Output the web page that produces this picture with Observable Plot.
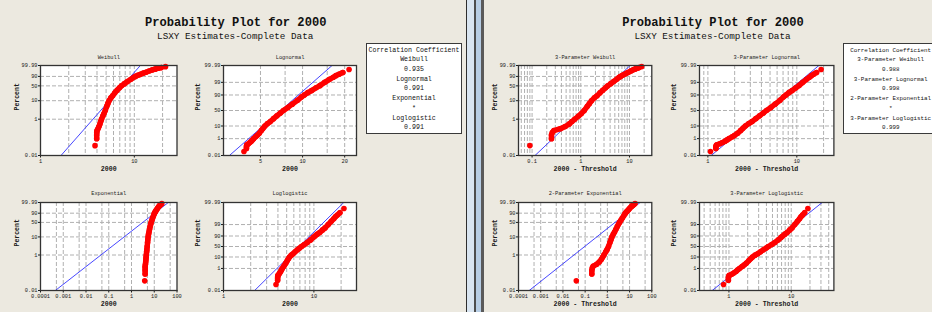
<!DOCTYPE html>
<html><head><meta charset="utf-8">
<script src="https://cdn.jsdelivr.net/npm/d3@7"></script>
<script src="https://cdn.jsdelivr.net/npm/@observablehq/plot@0.6"></script>
<style>
html,body{margin:0;padding:0}
body{width:932px;height:312px;overflow:hidden;background:#ECE9E0;position:relative;font-family:"Liberation Mono",monospace;color:#111}
.abs{position:absolute}
.ttl{position:absolute;transform:translate(-50%,-50%);white-space:nowrap;line-height:1}
.box{position:absolute;background:#fff;border:1.5px solid #3a3a3a;box-sizing:border-box;padding-top:2.2px}
.box div{height:9.7px;line-height:9.7px;text-align:center;font-size:6.6px;white-space:nowrap}
.box.narrow div{font-size:5.85px}
</style></head><body>
<div id="root"></div>
<script>
// ---- data: the sample "2000" read as quantiles (percent -> value) ----
const percents = [0.035, 0.085, 0.135, 0.185, 0.235, 0.30, 0.40, 0.55, 0.75, 1.0, 1.5, 2.0, 3.0, 5.0, 7.0, 10, 14, 18, 25, 33, 42, 50, 60, 70, 80, 87, 90, 93, 95, 97, 98, 99, 99.5, 99.7, 99.8, 99.865, 99.915, 99.965];
const values2000 = [3.81, 3.97, 3.97, 3.98, 4.00, 4.10, 4.20, 4.30, 4.38, 4.47, 4.62, 4.74, 4.90, 5.08, 5.22, 5.38, 5.62, 5.88, 6.20, 6.55, 6.95, 7.30, 7.85, 8.45, 9.20, 9.85, 10.3, 10.9, 11.6, 12.5, 13.3, 14.4, 15.6, 16.6, 17.3, 18.2, 19.4, 21.5];

// thresholds of the 3-/2-parameter fits
const thrWeibull3 = 3.72, thrLognormal3 = 2.74, thrExponential2 = 3.77, thrLoglogistic3 = 2.99;

// fitted lines: x value at 0.01 % and at 99.99 %
const fitPercents = [0.01, 99.99];
const fitWeibull = [1.654, 11.59];
const fitLognormal = [3.0, 16.25];
const fitExponential = [0.00045, 41.4];
const fitLoglogistic = [2.21, 21.4];
const fitWeibull3 = [0.115, 10.3];
const fitLognormal3 = [1.09, 17.7];
const fitExponential2 = [0.000305, 29.8];
const fitLoglogistic3 = [0.54, 31.4];

// axis ticks
const yTicksWeibull = [0.01, 1, 10, 50, 90, 99.99];
const yTicksNormal = [0.01, 1, 10, 50, 90, 99, 99.99];
const xTicksWeibull = [1, 10], xGridWeibull = [2,3,4,5,6,7,8,9,10,20];
const xTicksLognormal = [5, 10, 20], xGridLognormal = [5, 7.5, 10, 15, 20];
const xTicksExp = [0.0001, 0.001, 0.01, 0.1, 1, 10, 100], xGridExp = [0.0005, 0.001, 0.005, 0.01, 0.05, 0.1, 0.5, 1, 5, 10, 50];
const xTicksLoglogistic = [1, 10], xGridLoglogistic = [2,3,4,5,6,7,8,9,10,20];
const xTicksWeibull3 = [0.1, 1, 10], xGridWeibull3 = [0.06,0.07,0.08,0.09,0.1,0.2,0.3,0.4,0.5,0.6,0.7,0.8,0.9,1,2,3,4,5,6,7,8,9,10,20];
const xTicksLognormal3 = [1, 10], xGridLognormal3 = [0.9,1,2,3,4,5,6,7,8,9,10,20];
const xTicksLoglogistic3 = [1, 10], xGridLoglogistic3 = [0.4,0.5,0.6,0.7,0.8,0.9,1,2,3,4,5,6,7,8,9,10,20,30,40];

// correlation legend
const corrLeftNames = ["Weibull", "Lognormal", "Exponential", "Loglogistic"];
const corrLeftValues = ["0.935", "0.991", "*", "0.991"];
const corrRightNames = ["3-Parameter Weibull", "3-Parameter Lognormal", "2-Parameter Exponential", "3-Parameter Loglogistic"];
const corrRightValues = ["0.988", "0.998", "*", "0.999"];

// ---- probability scales ----
function qnorm(p){
  const a=[-3.969683028665376e+01,2.209460984245205e+02,-2.759285104469687e+02,1.383577518672690e+02,-3.066479806614716e+01,2.506628277459239e+00];
  const b=[-5.447609879822406e+01,1.615858368580409e+02,-1.556989798598866e+02,6.680131188771972e+01,-1.328068155288572e+01];
  const c=[-7.784894002430293e-03,-3.223964580411365e-01,-2.400758277161838e+00,-2.549671015012040e+00,4.374664141464968e+00,2.938163982698783e+00];
  const d=[7.784695709041462e-03,3.224671290700398e-01,2.445134137142996e+00,3.754408661907416e+00];
  const pl=0.02425, ph=1-pl; let q, r;
  if (p < pl){ q=Math.sqrt(-2*Math.log(p)); return (((((c[0]*q+c[1])*q+c[2])*q+c[3])*q+c[4])*q+c[5])/((((d[0]*q+d[1])*q+d[2])*q+d[3])*q+1); }
  if (p <= ph){ q=p-0.5; r=q*q; return (((((a[0]*r+a[1])*r+a[2])*r+a[3])*r+a[4])*r+a[5])*q/(((((b[0]*r+b[1])*r+b[2])*r+b[3])*r+b[4])*r+1); }
  q=Math.sqrt(-2*Math.log(1-p)); return -(((((c[0]*q+c[1])*q+c[2])*q+c[3])*q+c[4])*q+c[5])/((((d[0]*q+d[1])*q+d[2])*q+d[3])*q+1);
}
const yScales = {
  weibull: p => Math.log(-Math.log(1 - p/100)),
  normal: p => qnorm(p/100),
  logistic: p => Math.log(p/(100 - p))
};

const root = document.getElementById("root");
function el(tag, cls, css, text){ const e=document.createElement(tag); if(cls) e.className=cls; Object.assign(e.style, css||{}); if(text!=null) e.textContent=text; return e; }

function probPlot(cfg){
  const f = yScales[cfg.yScale];
  const pts = percents.map((p,i) => ({x: values2000[i] - cfg.threshold, y: f(p)}));
  const body = pts.slice(1, -1);
  const yt = cfg.yTicks.map(f);
  const yLab = new Map(cfg.yTicks.map(p => [f(p), String(p)]));
  const fitPts = fitPercents.map((p,i) => ({x: cfg.fit[i], y: f(p)}));
  const mL=34, mR=8, mT=16, mB=22;
  const [L,T,W,H] = cfg.frame;
  const svg = Plot.plot({
    width: W+mL+mR, height: H+mT+mB,
    marginLeft: mL, marginRight: mR, marginTop: mT, marginBottom: mB,
    style: {background:"transparent", fontFamily:"'Liberation Mono', monospace", fontSize:"5.3px", color:"#1a1a1a", overflow:"visible"},
    x: {type:"log", domain: cfg.xDomain, ticks: cfg.xTicks, tickFormat: d => String(d), tickSize: 2.5, tickPadding: 1.5, label: null},
    y: {type:"linear", domain: [f(0.01), f(99.99)], ticks: yt, tickFormat: d => yLab.get(d), tickSize: 2, tickPadding: 1, label: null},
    marks: [
      Plot.frame({fill:"#ffffff", stroke:"none"}),
      Plot.ruleX(cfg.xGrid, {stroke:"#b0b0b0", strokeWidth:1, strokeDasharray:"4,2"}),
      Plot.ruleY(yt.slice(1,-1), {stroke:"#b0b0b0", strokeWidth:1, strokeDasharray:"4,2"}),
      Plot.line(fitPts, {x:"x", y:"y", stroke:"#3232ff", strokeWidth:0.9, clip:true}),
      Plot.line(body, {x:"x", y:"y", stroke:"#ff0000", strokeWidth:5.4, strokeLinecap:"round", strokeLinejoin:"round"}),
      Plot.dot(pts, {x:"x", y:"y", r:2.8, fill:"#ff0000", stroke:"none"}),
      Plot.frame({stroke:"#333333", strokeWidth:1.3}),
      Plot.text([cfg.title], {frameAnchor:"top", dy: cfg.titleDy, fill:"#222"}),
      Plot.text([cfg.xLabel], {frameAnchor:"bottom", dy: 15.6, fontWeight:"bold", fontSize: 6.6}),
      Plot.text(["Percent"], {frameAnchor:"left", dx: cfg.percentDx, rotate:-90, fontWeight:"bold", fontSize: 6.5})
    ]
  });
  const holder = el("div", "abs", {left:(L-mL)+"px", top:(T-mT)+"px"});
  holder.appendChild(svg);
  root.appendChild(holder);
}

const plots = [
  {title:"Weibull", xLabel:"2000", frame:[39.5,64.5,136.5,90], xDomain:[1,28.5], xTicks:xTicksWeibull, xGrid:xGridWeibull, yScale:"weibull", yTicks:yTicksWeibull, threshold:0, fit:fitWeibull, titleDy:-10.5, percentDx:-24},
  {title:"Lognormal", xLabel:"2000", frame:[223,64.5,133,90], xDomain:[2.72,24.3], xTicks:xTicksLognormal, xGrid:xGridLognormal, yScale:"normal", yTicks:yTicksNormal, threshold:0, fit:fitLognormal, titleDy:-10.5, percentDx:-26},
  {title:"Exponential", xLabel:"2000", frame:[39.5,202,136.5,88], xDomain:[0.0001,100], xTicks:xTicksExp, xGrid:xGridExp, yScale:"weibull", yTicks:yTicksWeibull, threshold:0, fit:fitExponential, titleDy:-11.3, percentDx:-24},
  {title:"Loglogistic", xLabel:"2000", frame:[223,202,133,88], xDomain:[1,29.6], xTicks:xTicksLoglogistic, xGrid:xGridLoglogistic, yScale:"logistic", yTicks:yTicksNormal, threshold:0, fit:fitLoglogistic, titleDy:-11.3, percentDx:-26},
  {title:"3-Parameter Weibull", xLabel:"2000 - Threshold", frame:[517.7,64.5,133.3,90], xDomain:[0.0526,28.7], xTicks:xTicksWeibull3, xGrid:xGridWeibull3, yScale:"weibull", yTicks:yTicksWeibull, threshold:thrWeibull3, fit:fitWeibull3, titleDy:-10.5, percentDx:-24},
  {title:"3-Parameter Lognormal", xLabel:"2000 - Threshold", frame:[699.3,64.5,134.4,90], xDomain:[0.805,26.1], xTicks:xTicksLognormal3, xGrid:xGridLognormal3, yScale:"normal", yTicks:yTicksNormal, threshold:thrLognormal3, fit:fitLognormal3, titleDy:-10.5, percentDx:-26},
  {title:"2-Parameter Exponential", xLabel:"2000 - Threshold", frame:[517.7,202,133.3,88], xDomain:[0.0001,100], xTicks:xTicksExp, xGrid:xGridExp, yScale:"weibull", yTicks:yTicksWeibull, threshold:thrExponential2, fit:fitExponential2, titleDy:-11.3, percentDx:-24},
  {title:"3-Parameter Loglogistic", xLabel:"2000 - Threshold", frame:[699.3,202,134.4,88], xDomain:[0.337,48.4], xTicks:xTicksLoglogistic3, xGrid:xGridLoglogistic3, yScale:"logistic", yTicks:yTicksNormal, threshold:thrLoglogistic3, fit:fitLoglogistic3, titleDy:-11.3, percentDx:-26}
];
plots.forEach(probPlot);

// titles
for (const cx of [235.7, 713]){
  root.appendChild(el("div","ttl",{left:cx+"px", top:"23px", fontSize:"12.1px", fontWeight:"bold"}, "Probability Plot for 2000"));
  root.appendChild(el("div","ttl",{left:(cx-0.5)+"px", top:"37px", fontSize:"9.3px"}, "LSXY Estimates-Complete Data"));
}

// correlation boxes
function corrBox(left, names, vals, narrow){
  const b = el("div","box" + (narrow ? " narrow" : ""),{left:left+"px", top:"42.5px", width:"96px", height:"91px"});
  b.appendChild(el("div",null,{}, "Correlation Coefficient"));
  names.forEach((n,i) => { b.appendChild(el("div",null,{}, n)); b.appendChild(el("div",null,{}, vals[i])); });
  root.appendChild(b);
}
corrBox(366, corrLeftNames, corrLeftValues, false);
corrBox(842.7, corrRightNames, corrRightValues, true);

// window divider
[[466,1,"#2e2e2e"],[467,6.5,"#d9e5f1"],[473.5,2.3,"#4d4d4d"],[475.8,5.5,"#b7cde4"],[481.3,2.5,"#5a5a5a"]].forEach(([x,w,c]) => {
  root.appendChild(el("div","abs",{left:x+"px", top:"0px", width:w+"px", height:"312px", background:c}));
});
</script>
</body></html>
